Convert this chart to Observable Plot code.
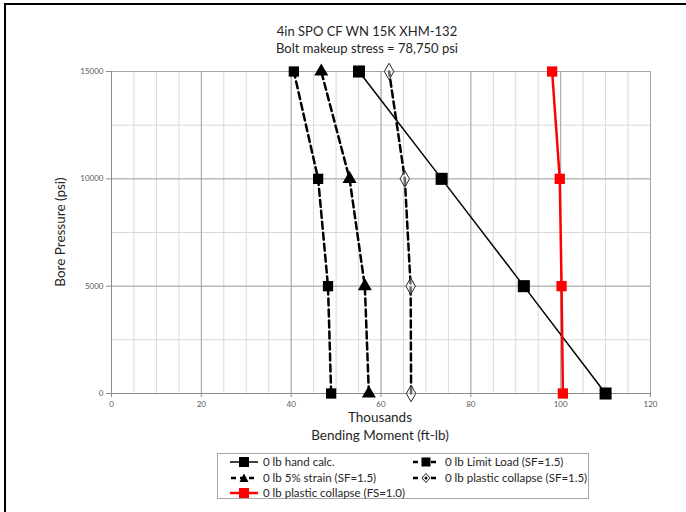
<!DOCTYPE html>
<html>
<head>
<meta charset="utf-8">
<script src="https://cdn.jsdelivr.net/npm/d3@7"></script>
<script src="https://cdn.jsdelivr.net/npm/@observablehq/plot@0.6"></script>
<style>
  html, body { margin:0; padding:0; background:#fff; }
  #wrap { position:relative; width:686px; height:512px; overflow:hidden; font-family:Lato, "Open Sans", sans-serif; color:#262626; }
  #frame { position:absolute; left:4px; top:3px; width:700px; height:600px; border-left:2.5px solid #000; border-top:2.5px solid #000; }
  .t { position:absolute; white-space:nowrap; transform:translateX(-50%); }
  #legend { position:absolute; left:217px; top:453px; width:372px; height:46px; border:1px solid #a6a6a6; box-sizing:border-box; font-size:11.5px; }
  .li { position:absolute; display:flex; align-items:center; white-space:nowrap; }
  .li svg { margin-right:3px; }
</style>
</head>
<body>
<div id="wrap">
  <div id="frame"></div>
  <div id="chart" style="position:absolute;left:0;top:0;"></div>
  <div class="t" style="left:367px;top:23px;font-size:13px;">4in SPO CF WN 15K XHM-132</div>
  <div class="t" style="left:367px;top:40px;font-size:13px;">Bolt makeup stress = 78,750 psi</div>
  <div class="t" style="left:380px;top:409px;font-size:13.5px;">Thousands</div>
  <div class="t" style="left:380px;top:427px;font-size:13.5px;">Bending Moment (ft-lb)</div>
  <div style="position:absolute;left:60px;top:232px;transform:translate(-50%,-50%) rotate(-90deg);font-size:13.5px;white-space:nowrap;">Bore Pressure (psi)</div>
  <div id="legend"></div>
</div>
<script>
// Data (bending moment in thousands of ft-lb)
const pressure     = [0, 5000, 10000, 15000];
const handCalc     = [110.0, 91.8, 73.5, 55.1];
const limitLoad    = [48.9, 48.2, 46.0, 40.6];
const strain5      = [57.3, 56.4, 53.0, 46.7];
const plasticSF15  = [66.7, 66.6, 65.3, 61.8];
const plasticFS10  = [100.5, 100.2, 99.8, 98.1];
const seriesNames  = ["0 lb hand calc.", "0 lb Limit Load (SF=1.5)", "0 lb 5% strain (SF=1.5)", "0 lb plastic collapse (SF=1.5)", "0 lb plastic collapse (FS=1.0)"];
const xTicks = [0, 20, 40, 60, 80, 100, 120];
const yTicks = [0, 5000, 10000, 15000];

const rows = vals => pressure.map((p, i) => ({x: vals[i], y: p}));
const dHand = rows(handCalc), dLimit = rows(limitLoad), dStrain = rows(strain5),
      dPSF = rows(plasticSF15), dPFS = rows(plasticFS10);

const minorX = d3.range(0, 121, 5);
const minorY = d3.range(0, 15001, 2500);

const chart = Plot.plot({
  width: 686, height: 440,
  marginLeft: 111, marginRight: 36, marginTop: 71, marginBottom: 47,
  x: {domain: [0, 120]},
  y: {domain: [0, 15000]},
  style: {fontFamily: "Lato, 'Open Sans', sans-serif", background: "transparent", overflow: "visible"},
  marks: [
    Plot.ruleX(minorX, {stroke: "#d9d9d9", strokeWidth: 1}),
    Plot.ruleY(minorY, {stroke: "#d9d9d9", strokeWidth: 1}),
    Plot.ruleX(xTicks, {stroke: "#a6a6a6", strokeWidth: 1}),
    Plot.ruleY(yTicks, {stroke: "#a6a6a6", strokeWidth: 1}),
    Plot.ruleX([0], {stroke: "#8c8c8c"}),
    Plot.ruleY([0], {stroke: "#8c8c8c"}),
    Plot.axisX({ticks: xTicks, tickSize: 4, tickPadding: 4, fontSize: 8, stroke: "#8c8c8c", fill: "#595959", label: null}),
    Plot.axisY({ticks: yTicks, tickSize: 5, tickPadding: 3, fontSize: 8, stroke: "#8c8c8c", fill: "#595959", label: null, tickFormat: d => String(d)}),
    // series
    Plot.line(dHand, {x: "x", y: "y", stroke: "#000", strokeWidth: 1.5}),
    Plot.line(dLimit, {x: "x", y: "y", stroke: "#000", strokeWidth: 2.5, strokeDasharray: "7,4"}),
    Plot.line(dStrain, {x: "x", y: "y", stroke: "#000", strokeWidth: 2.5, strokeDasharray: "7,4"}),
    Plot.line(dPSF, {x: "x", y: "y", stroke: "#000", strokeWidth: 2.5, strokeDasharray: "7,4"}),
    Plot.line(dPFS, {x: "x", y: "y", stroke: "#ff0000", strokeWidth: 2.5}),
    Plot.dot(dHand, {x: "x", y: "y", symbol: "square", r: 6.8, fill: "#000", stroke: "none"}),
    Plot.dot(dLimit, {x: "x", y: "y", symbol: "square", r: 5.8, fill: "#000", stroke: "none"}),
    Plot.dot(dStrain, {x: "x", y: "y", symbol: "triangle", r: 5.2, fill: "#000", stroke: "none"}),
    Plot.dot(dPSF, {x: "x", y: "y", symbol: "diamond", r: 5, fill: "#fff", fillOpacity: 0.4, stroke: "#262626", strokeWidth: 1}),
    Plot.dot(dPFS, {x: "x", y: "y", symbol: "square", r: 5.8, fill: "#ff0000", stroke: "none"})
  ]
});
document.getElementById("chart").appendChild(chart);

// Legend
function icon(kind) {
  switch (kind) {
    case 0: return `<svg width="32" height="12"><line x1="2" y1="6" x2="30" y2="6" stroke="#000" stroke-width="1.5"/><rect x="11" y="1" width="10" height="10" fill="#000"/></svg>`;
    case 1: return `<svg width="32" height="12"><line x1="3" y1="6" x2="30" y2="6" stroke="#000" stroke-width="2.5" stroke-dasharray="5,4"/><rect x="11.5" y="1.5" width="9" height="9" fill="#000"/></svg>`;
    case 2: return `<svg width="32" height="12"><line x1="3" y1="6" x2="30" y2="6" stroke="#000" stroke-width="2.5" stroke-dasharray="5,4"/><path d="M16,1.5 L20.5,10 L11.5,10 Z" fill="#000"/></svg>`;
    case 3: return `<svg width="32" height="12"><line x1="3" y1="6" x2="30" y2="6" stroke="#000" stroke-width="2.5" stroke-dasharray="5,4"/><path d="M16,1.5 L20,6 L16,10.5 L12,6 Z" fill="#fff" stroke="#262626" stroke-width="1"/><circle cx="16" cy="6" r="1.5" fill="#000"/></svg>`;
    case 4: return `<svg width="32" height="12"><line x1="2" y1="6" x2="30" y2="6" stroke="#ff0000" stroke-width="2.5"/><rect x="11" y="1" width="10" height="10" fill="#ff0000"/></svg>`;
  }
}
const pos = [[10, 1], [192, 1], [10, 17], [192, 17], [10, 32]];
const leg = document.getElementById("legend");
seriesNames.forEach((n, i) => {
  const d = document.createElement("div");
  d.className = "li";
  d.style.left = pos[i][0] + "px";
  d.style.top = pos[i][1] + "px";
  d.innerHTML = icon(i) + `<span>${n}</span>`;
  leg.appendChild(d);
});
</script>
</body>
</html>
